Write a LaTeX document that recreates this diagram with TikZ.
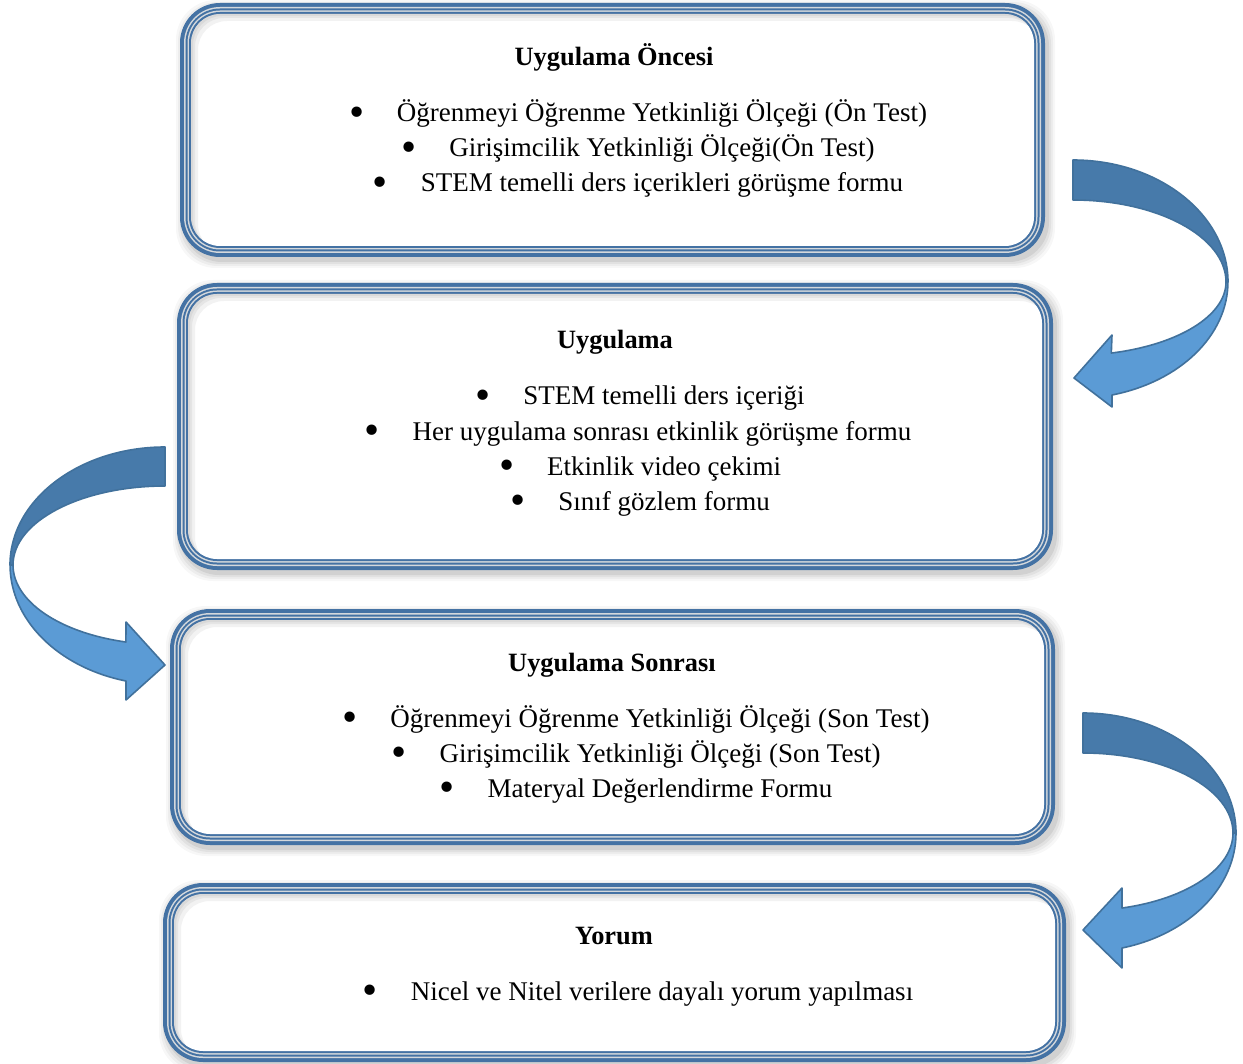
\documentclass[tikz,border=0pt]{standalone}
\usepackage{fontspec}
\usepackage{graphicx}
\setmainfont{Liberation Serif}
\definecolor{bbd}{HTML}{4472A4}
\definecolor{lgr}{HTML}{D4D8DC}
\definecolor{adark}{HTML}{477AAA}
\definecolor{alight}{HTML}{5B9BD5}
\definecolor{aline}{HTML}{41719C}
\newcommand\bul{\makebox[24pt][l]{\raisebox{-2.2pt}{\scalebox{1.6}{•}}}}
\newcommand\tribox[4]{%
  \foreach \s/\o in {7/0.03,5/0.04,3/0.05,1/0.07}{
    \fill[black,opacity=\o,rounded corners=20pt] (#1+3-\s,#2+4-\s) rectangle (#3+3+\s,#4+4+\s);}
  \fill[bbd,rounded corners=20pt] (#1,#2) rectangle (#3,#4);
  \fill[lgr,rounded corners=18pt] (#1+4,#2+4) rectangle (#3-4,#4-4);
  \fill[bbd,rounded corners=17.25pt] (#1+5.5,#2+5.5) rectangle (#3-5.5,#4-5.5);
  \fill[lgr,rounded corners=16.25pt] (#1+7.5,#2+7.5) rectangle (#3-7.5,#4-7.5);
  \fill[bbd,rounded corners=15.5pt] (#1+9,#2+9) rectangle (#3-9,#4-9);
  \fill[white,rounded corners=14.5pt] (#1+11,#2+11) rectangle (#3-11,#4-11);
  \begin{scope}
    \clip[rounded corners=14.5pt] (#1+11,#2+11) rectangle (#3-11,#4-11);
    \foreach \s in {2,4,7}{
      \fill[black,opacity=0.05,even odd rule,rounded corners=14.5pt]
        (#1,#2) rectangle (#3,#4) (#1+11+\s,#2+11+\s) rectangle (#3-11+\s,#4-11+\s);}
  \end{scope}
}
\begin{document}
\begin{tikzpicture}[x=0.5pt,y=-0.5pt,
  every node/.style={inner sep=0pt,font=\fontsize{13.5pt}{17pt}\selectfont},
  title/.style={anchor=base,font=\fontsize{13.2pt}{17pt}\selectfont\bfseries},
  item/.style={anchor=base},
  arrowdark/.style={fill=adark,draw=aline,line width=0.8pt,line join=round},
  arrowlight/.style={fill=alight,draw=aline,line width=0.8pt,line join=round}]
\useasboundingbox (0,0) rectangle (1243,1064);

% boxes
\tribox{180}{3}{1045}{257}
\tribox{177}{283}{1053}{570}
\tribox{170}{609}{1055}{845}
\tribox{163}{883}{1066}{1062}

% arrow 1 (right, top)
\path[arrowlight] (1226,282) arc[start angle=0,end angle=75.5,x radius=153,y radius=73.4]
  -- (1112,335) -- (1074,378) -- (1112,407) -- (1112,395)
  arc[start angle=75.4,end angle=0,x radius=155,y radius=116.7] -- cycle;
\path[arrowdark] (1073,160) arc[start angle=-90,end angle=0,x radius=155,y radius=122]
  -- (1226,282) arc[start angle=0,end angle=-90,x radius=153,y radius=82] -- cycle;

% arrow 2 (left)
\path[arrowlight] (13,565) arc[start angle=180,end angle=104.9,x radius=152,y radius=79.7]
  -- (126,622) -- (165,665) -- (126,700) -- (126,681)
  arc[start angle=104.6,end angle=180,x radius=155,y radius=119.9] -- cycle;
\path[arrowdark] (165,447) arc[start angle=-90,end angle=-180,x radius=155,y radius=118]
  -- (13,565) arc[start angle=180,end angle=270,x radius=152,y radius=79] -- cycle;

% arrow 3 (right, bottom)
\path[arrowlight] (1233,833) arc[start angle=0,end angle=74.93,x radius=150,y radius=77.7]
  -- (1122,888) -- (1083,930) -- (1122,968) -- (1122,948)
  arc[start angle=75.23,end angle=0,x radius=153,y radius=118.9] -- cycle;
\path[arrowdark] (1083,713) arc[start angle=-90,end angle=0,x radius=153,y radius=120]
  -- (1233,833) arc[start angle=0,end angle=-90,x radius=150,y radius=80] -- cycle;

% box 1 text
\node[title] (t1) at (614,66) {Uygulama Öncesi};
\node[item] (l11) at (638,122) {\bul Öğrenmeyi Öğrenme Yetkinliği Ölçeği (Ön Test)};
\node[item] (l12) at (638,157) {\bul Girişimcilik Yetkinliği Ölçeği(Ön Test)};
\node[item] (l13) at (638,192) {\bul STEM temelli ders içerikleri görüşme formu};

% box 2 text
\node[title] (t2) at (615,349) {Uygulama};
\node[item] (l21) at (640,405) {\bul STEM temelli ders içeriği};
\node[item] (l22) at (638,440) {\bul Her uygulama sonrası etkinlik görüşme formu};
\node[item] (l23) at (640,475) {\bul Etkinlik video çekimi};
\node[item] (l24) at (640,510) {\bul Sınıf gözlem formu};

% box 3 text
\node[title] (t3) at (612,671) {Uygulama Sonrası};
\node[item] (l31) at (636,727) {\bul Öğrenmeyi Öğrenme Yetkinliği Ölçeği (Son Test)};
\node[item] (l32) at (636,762) {\bul Girişimcilik Yetkinliği Ölçeği (Son Test)};
\node[item] (l33) at (636,797) {\bul Materyal Değerlendirme Formu};

% box 4 text
\node[title] (t4) at (614,944) {Yorum};
\node[item] (l41) at (638,1000) {\bul Nicel ve Nitel verilere dayalı yorum yapılması};
\end{tikzpicture}
\end{document}
